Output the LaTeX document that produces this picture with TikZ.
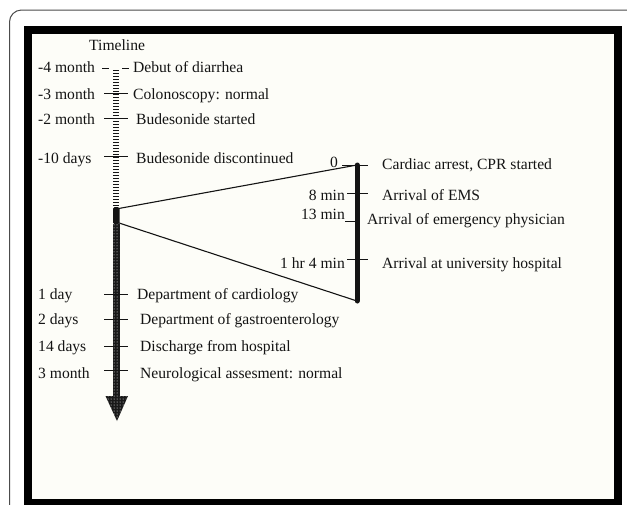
\documentclass[tikz,border=0pt]{standalone}
\usepackage{fontspec}
\setmainfont{Liberation Serif}
\usetikzlibrary{patterns}
\definecolor{paper}{RGB}{253,253,248}
\definecolor{ink}{RGB}{20,20,20}
\begin{document}
\begin{tikzpicture}[x=1pt,y=-1pt,
  lbl/.style={anchor=base west, inner sep=0pt, font=\fontsize{15.6}{16}\selectfont, text=ink},
  rlbl/.style={anchor=base east, inner sep=0pt, font=\fontsize{15.6}{16}\selectfont, text=ink},
  tickline/.style={line width=0.9pt, ink},
  link/.style={line width=1.1pt, ink}]
\useasboundingbox (0,0) rectangle (627,504);
\clip (0,0) rectangle (627,504);
\fill[white] (0,0) rectangle (627,504);
% outer card frame
\draw[black!70, line width=1pt, rounded corners=12] (9.5,530) -- (9.5,10) -- (660,10);
% inner thick frame
\draw[line width=8pt, fill=paper] (28,30) rectangle (617.5,503);

% axis coordinates
\coordinate (axTop) at (116,70);
\coordinate (blkTop) at (116,207);
\coordinate (blkBot) at (116,224);
\coordinate (shaftEnd) at (116,397);

% dashed upper axis
\draw[line width=5.5pt, ink, dash pattern=on 1.2pt off 1.8pt] (axTop) -- (blkTop);
% thick block
\fill[ink, rounded corners=1.5] (113,207) rectangle (119.5,224);
% textured lower shaft
\fill[black!90] (113,224) rectangle (119.5,397);
\fill[pattern=dots, pattern color=white] (113,224) rectangle (119.5,397);
% arrow head
\fill[black!90] (105.5,396) -- (128,396) -- (117,421) -- cycle;
\fill[pattern=dots, pattern color=white] (105.5,396) -- (128,396) -- (117,421) -- cycle;

% title
\node[lbl] (title) at (89,50) {Timeline};

% upper events
\node[lbl] (t1) at (38,72) {-4 month};
\node[lbl] (e1) at (133,72) {Debut of diarrhea};
\node[lbl] (t2) at (38,99) {-3 month};
\node[lbl] (e2) at (133,99) {Colonoscopy: normal};
\node[lbl] (t3) at (38,124) {-2 month};
\node[lbl] (e3) at (136,124) {Budesonide started};
\node[lbl] (t4) at (38,163) {-10 days};
\node[lbl] (e4) at (136,163) {Budesonide discontinued};

\coordinate (k1a) at (102,68); \coordinate (k1b) at (109,68);
\coordinate (k1c) at (122,68); \coordinate (k1d) at (129,68);
\draw[tickline] (k1a) -- (k1b);
\draw[tickline] (k1c) -- (k1d);
\foreach \y/\n in {93/2,118/3,156/4}{
  \coordinate (kl\n) at (104,\y); \coordinate (kr\n) at (128,\y);
  \draw[tickline] (kl\n) -- (kr\n);
}

% lower events
\node[lbl] (t5) at (38,299) {1 day};
\node[lbl] (e5) at (137,299) {Department of cardiology};
\node[lbl] (t6) at (38,324) {2 days};
\node[lbl] (e6) at (140,324) {Department of gastroenterology};
\node[lbl] (t7) at (38,351) {14 days};
\node[lbl] (e7) at (140,351) {Discharge from hospital};
\node[lbl] (t8) at (38,378) {3 month};
\node[lbl] (e8) at (140,378) {Neurological assesment: normal};
\foreach \y/\n in {294/5,319/6,346/7,370/8}{
  \coordinate (kl\n) at (104,\y); \coordinate (kr\n) at (128,\y);
  \draw[tickline] (kl\n) -- (kr\n);
}

% zoom bar
\coordinate (barTop) at (357,165);
\coordinate (barBot) at (357,301);
\draw[line width=5pt, ink, line cap=round] (barTop) -- (barBot);
\draw[link] (116,209) -- (barTop);
\draw[link] (116,222) -- (barBot);

% right ticks and labels
\node[rlbl] (r0) at (338,167) {0};
\node[lbl] (s0) at (382,169) {Cardiac arrest, CPR started};
\coordinate (q0a) at (342,165); \coordinate (q0b) at (368,165);
\draw[tickline] (q0a) -- (q0b);

\node[rlbl] (r1) at (345,200) {8 min};
\node[lbl] (s1) at (382,200) {Arrival of EMS};
\coordinate (q1a) at (347,193); \coordinate (q1b) at (368,193);
\draw[tickline] (q1a) -- (q1b);

\node[rlbl] (r2) at (345,219) {13 min};
\node[lbl] (s2) at (367,224) {Arrival of emergency physician};
\coordinate (q2a) at (345,221); \coordinate (q2b) at (356,221);
\draw[tickline] (q2a) -- (q2b);

\node[rlbl] (r3) at (345,268) {1 hr 4 min};
\node[lbl] (s3) at (382,268) {Arrival at university hospital};
\coordinate (q3a) at (347,259); \coordinate (q3b) at (368,259);
\draw[tickline] (q3a) -- (q3b);
\end{tikzpicture}
\end{document}
